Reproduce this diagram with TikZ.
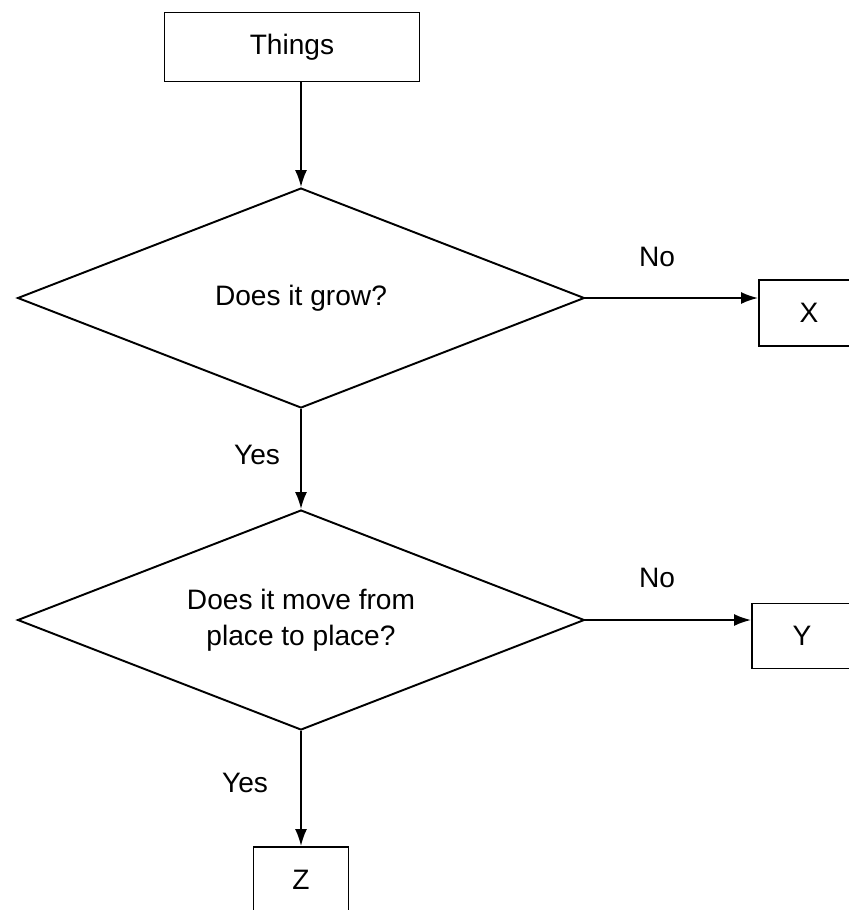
\documentclass[tikz,border=0pt]{standalone}
\usepackage{fontspec}
\setmainfont{Liberation Sans}
\usetikzlibrary{arrows.meta, shapes.geometric, positioning}

\begin{document}
\begin{tikzpicture}[x=0.02cm, y=-0.02cm, line width=1.1pt,
  every node/.style={font=\fontsize{16}{20.5}\selectfont},
  box/.style={draw, rectangle, inner sep=0pt},
  choice/.style={draw, diamond, aspect=2.58, inner sep=0pt, minimum width=11.34cm, minimum height=4.4cm, align=center},
  flow/.style={-{Latex[length=3.4mm, width=2.4mm]}}]
  \clip (0,0) rectangle (849,910);
  % boxes
  \node[box, minimum width=5.1cm, minimum height=1.38cm] (things) at (292,47) {Things};
  \node[choice] (grow) at (301,298) {Does it grow?};
  \node[choice] (move) at (301,620) {Does it move from\\place to place?};
  \node[box, minimum width=2cm, minimum height=1.32cm] (xbox) at (809,313) {X};
  \node[box, minimum width=2cm, minimum height=1.3cm] (ybox) at (802,636) {Y};
  \node[box, minimum width=1.9cm, minimum height=1.32cm] (zbox) at (301,880) {Z};
  % arrows
  \draw[flow] (grow.north |- things.south) -- (grow.north);
  \draw[flow] (grow.east) -- (grow.east -| xbox.west);
  \draw[flow] (grow.south) -- (move.north);
  \draw[flow] (move.east) -- (move.east -| ybox.west);
  \draw[flow] (move.south) -- (zbox.north);
  % labels
  \node (no1) at (657,257) {No};
  \node (no2) at (657,578) {No};
  \node (yes1) at (257,455) {Yes};
  \node (yes2) at (245,783) {Yes};
\end{tikzpicture}
\end{document}
